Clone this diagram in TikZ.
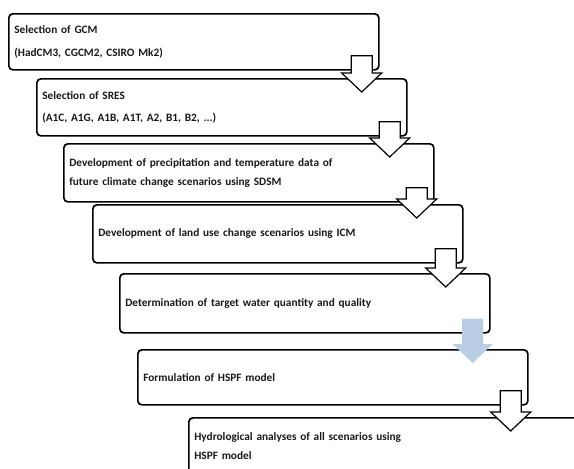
\documentclass[tikz,border=0pt]{standalone}
\usepackage{fontspec}
\setmainfont{Carlito}
\usetikzlibrary{calc}

\definecolor{arrowblue}{HTML}{B9CDE5}

% block arrow from the lower right of one box down into the next
\newcommand{\blockarrow}[3][hollowarr]{%
  \draw[#1] let \p1=(#2.south east), \p2=(#3.north) in
    (\x1-28.5pt,\y1+15pt) -- (\x1-7.5pt,\y1+15pt) -- (\x1-7.5pt,\y2+5pt)
    -- (\x1+2pt,\y2+5pt) -- (\x1-18pt,\y2-14pt) -- (\x1-38pt,\y2+5pt)
    -- (\x1-28.5pt,\y2+5pt) -- cycle;}

\begin{document}
\begin{tikzpicture}[
    x=1pt, y=1pt,
    stepbox/.style={draw=black, line width=1.7pt, rounded corners=4pt, anchor=north west,
        minimum height=57pt, inner xsep=5.5pt, align=left, text width=359pt,
        text=black!90, font=\bfseries\fontsize{11.3}{18.5}\selectfont},
    hollowarr/.style={draw=black, line width=1.2pt, fill=white, line join=miter},
    bluearr/.style={fill=arrowblue, draw=none}
]
\useasboundingbox (0,0) rectangle (574,-469);
\clip (0,0) rectangle (574,-469);

% ---------- Steps ----------
\node[stepbox, minimum height=56pt] (gcm) at (8,-13)
    {Selection of GCM\\[4pt](HadCM3, CGCM2, CSIRO Mk2)};
\node[stepbox] (sres) at (36,-78)
    {Selection of SRES\\[3pt](A1C, A1G, A1B, A1T, A2, B1, B2, ...)};
\node[stepbox, minimum height=58pt] (sdsm) at (63,-143)
    {Development of precipitation and temperature data of\\future climate change scenarios using SDSM};
\node[stepbox, minimum height=58pt] (icm) at (92,-204)
    {Development of land use change scenarios using ICM};
\node[stepbox, minimum height=59pt] (target) at (119,-273)
    {Determination of target water quantity and quality};
\node[stepbox, minimum height=55pt, text width=379pt] (hspf) at (137,-349)
    {Formulation of HSPF model};
\node[stepbox, minimum height=56pt, text width=381pt] (hydro) at (188,-417)
    {Hydrological analyses of all scenarios using\\HSPF model};

% ---------- Arrows ----------
\blockarrow{gcm}{sres}
\blockarrow{sres}{sdsm}
\blockarrow{sdsm}{icm}
\blockarrow{icm}{target}
\blockarrow[bluearr]{target}{hspf}
\blockarrow{hspf}{hydro}

\end{tikzpicture}
\end{document}
